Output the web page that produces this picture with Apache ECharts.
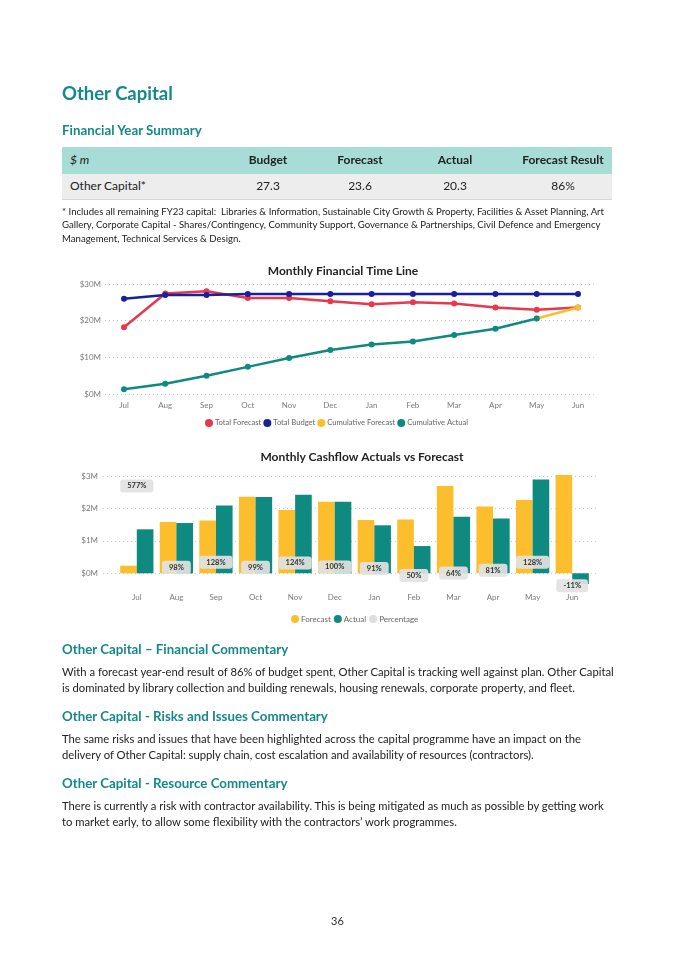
<!DOCTYPE html>
<html>
<head>
<meta charset="utf-8">
<script src="https://cdn.jsdelivr.net/npm/echarts@6/dist/echarts.min.js"></script>
<style>
  html, body { margin:0; padding:0; background:#fff; }
  body { width:675px; height:955px; position:relative; overflow:hidden; font-family: Lato, "Open Sans", sans-serif; color:#222; }
  #chart { position:absolute; left:0; top:0; width:675px; height:955px; }
  .abs { position:absolute; white-space:nowrap; }
  .h1 { left:62px; top:80px; font-size:18.5px; font-weight:bold; color:#15898a; line-height:26px; }
  .h2 { left:62px; font-size:13.3px; font-weight:bold; color:#15898a; line-height:18px; }
  .p { left:62px; font-size:11.25px; line-height:16px; color:#222; }
  .foot { left:62px; top:205px; font-size:9.6px; line-height:13.3px; color:#222; }
  .cell { position:absolute; font-size:12px; line-height:16px; text-align:center; width:120px; }
</style>
</head>
<body>
<div id="chart"></div>

<div class="abs h1">Other Capital</div>
<div class="abs h2" style="top:121px;">Financial Year Summary</div>

<div class="abs" style="left:62px; top:147px; width:550px; height:27px; background:#a8dcd6;"></div>
<div class="abs" style="left:62px; top:174px; width:550px; height:25px; background:#ededed; border-bottom:1px solid #d6d6d6;"></div>
<div class="cell" style="left:70px; top:152px; text-align:left; font-style:italic;">$ m</div>
<div class="cell" style="left:208px; top:152px; font-weight:bold;">Budget</div>
<div class="cell" style="left:300px; top:152px; font-weight:bold;">Forecast</div>
<div class="cell" style="left:395px; top:152px; font-weight:bold;">Actual</div>
<div class="cell" style="left:503px; top:152px; font-weight:bold;">Forecast Result</div>
<div class="cell" style="left:70px; top:178px; text-align:left;">Other Capital*</div>
<div class="cell" style="left:208px; top:178px;">27.3</div>
<div class="cell" style="left:300px; top:178px;">23.6</div>
<div class="cell" style="left:395px; top:178px;">20.3</div>
<div class="cell" style="left:503px; top:178px;">86%</div>

<div class="abs foot">* Includes all remaining FY23 capital:&nbsp; Libraries &amp; Information, Sustainable City Growth &amp; Property, Facilities &amp; Asset Planning, Art<br>Gallery, Corporate Capital - Shares/Contingency, Community Support, Governance &amp; Partnerships, Civil Defence and Emergency<br>Management, Technical Services &amp; Design.</div>

<div class="abs h2" style="top:640px;">Other Capital – Financial Commentary</div>
<div class="abs p" style="top:664px;">With a forecast year-end result of 86% of budget spent, Other Capital is tracking well against plan. Other Capital<br>is dominated by library collection and building renewals, housing renewals, corporate property, and fleet.</div>
<div class="abs h2" style="top:707px;">Other Capital - Risks and Issues Commentary</div>
<div class="abs p" style="top:731px;">The same risks and issues that have been highlighted across the capital programme have an impact on the<br>delivery of Other Capital: supply chain, cost escalation and availability of resources (contractors).</div>
<div class="abs h2" style="top:774px;">Other Capital - Resource Commentary</div>
<div class="abs p" style="top:798px;">There is currently a risk with contractor availability. This is being mitigated as much as possible by getting work<br>to market early, to allow some flexibility with the contractors’ work programmes.</div>

<div class="abs" style="left:0; width:675px; top:914px; text-align:center; font-size:11px; color:#333;">36</div>

<script>
const months = ['Jul','Aug','Sep','Oct','Nov','Dec','Jan','Feb','Mar','Apr','May','Jun'];
const totalForecast = [18.2, 27.4, 28.0, 26.2, 26.2, 25.3, 24.5, 25.0, 24.7, 23.6, 23.0, 23.6];
const totalBudget   = [26.0, 27.0, 27.0, 27.3, 27.3, 27.3, 27.3, 27.3, 27.3, 27.3, 27.3, 27.3];
const cumForecast   = [null, null, null, null, null, null, null, null, null, null, 20.6, 23.6];
const cumActual     = [1.3, 2.8, 5.0, 7.4, 9.8, 12.0, 13.5, 14.3, 16.1, 17.8, 20.6, null];
const lineTicks = ['$0M','$10M','$20M','$30M'];

const cashForecast = [0.235, 1.58, 1.63, 2.36, 1.95, 2.21, 1.64, 1.66, 2.69, 2.06, 2.26, 3.03];
const cashActual   = [1.356, 1.55, 2.09, 2.35, 2.42, 2.21, 1.48, 0.84, 1.74, 1.69, 2.89, -0.33];
const percentage   = [577, 98, 128, 99, 124, 100, 91, 50, 64, 81, 128, -11];
const barTicks = ['$0M','$1M','$2M','$3M'];

const C_RED = '#e8384d', C_BLUE = '#1a1f9c', C_YEL = '#fdbe2e', C_TEAL = '#0f8a80';
const F = 'Lato, "Open Sans", sans-serif';
const axisTxt = { color:'#7a7a7a', fontSize:8, fontFamily:F };

// bar chart pixel mapping
const barZeroY = 573.3, pxPerM = 32.43;
const barTop = 470, barH = 114;
const barMin = -((barTop + barH) - barZeroY) / pxPerM; // negative
const barMax = barMin + barH / pxPerM;
const pctZeroY = 584, pxPerPct = 0.17, pctTop = 470, pctH = 125;
const pctMin = -((pctTop + pctH) - pctZeroY) / pxPerPct;
const pctMax = pctMin + pctH / pxPerPct;

const chart = echarts.init(document.getElementById('chart'), null, { renderer:'canvas' });
const hiddenVal = (gi) => ({ type:'value', gridIndex:gi, show:false, min:0, max:1 });

chart.setOption({
  animation:false,
  textStyle:{ fontFamily:F },
  title:[
    { text:'Monthly Financial Time Line', left:338, top:260, textAlign:'center',
      textStyle:{ fontSize:12, fontWeight:'bold', color:'#252423', fontFamily:F } },
    { text:'Monthly Cashflow Actuals vs Forecast', left:357, top:446, textAlign:'center',
      textStyle:{ fontSize:12, fontWeight:'bold', color:'#252423', fontFamily:F } }
  ],
  legend:[
    { data:['Total Forecast','Total Budget','Cumulative Forecast','Cumulative Actual'],
      left:200, top:414, icon:'circle', itemWidth:8, itemHeight:8, itemGap:2,
      textStyle:{ fontSize:7.6, color:'#666', fontFamily:F, padding:[0,0,0,-3] } },
    { data:['Forecast','Actual',{name:'Percentage', itemStyle:{color:'#dedede'}}],
      left:286, top:610, icon:'circle', itemWidth:8, itemHeight:8, itemGap:3,
      textStyle:{ fontSize:8, color:'#666', fontFamily:F, padding:[0,0,0,-3] } }
  ],
  grid:[
    { left:105, top:284, width:492, height:110 },   // 0 line gridlines + labels
    { left:124, top:284, width:454, height:110 },   // 1 lines
    { left:103, top:476, width:494, height:97.3 },  // 2 bar gridlines + labels
    { left:117, top:barTop, width:475, height:barH },// 3 bars
    { left:117, top:pctTop, width:475, height:pctH } // 4 percentage labels
  ],
  xAxis:[
    hiddenVal(0),
    { type:'category', gridIndex:1, data:months, boundaryGap:false,
      axisLine:{show:false}, axisTick:{show:false}, axisLabel:Object.assign({margin:7}, axisTxt) },
    hiddenVal(2),
    { type:'category', gridIndex:3, data:months,
      axisLine:{show:false}, axisTick:{show:false}, axisLabel:Object.assign({margin:9}, axisTxt) },
    { type:'category', gridIndex:4, data:months, show:false }
  ],
  yAxis:[
    { type:'value', gridIndex:0, min:0, max:30, interval:10,
      axisLine:{show:false}, axisTick:{show:false},
      axisLabel:Object.assign({ margin:4, formatter:(v,i)=>lineTicks[i] }, axisTxt),
      splitLine:{ lineStyle:{ type:[1,3], color:'#c8c8c8', width:1 } } },
    { type:'value', gridIndex:1, min:0, max:30, show:false, splitLine:{show:false} },
    { type:'value', gridIndex:2, min:0, max:3, interval:1,
      axisLine:{show:false}, axisTick:{show:false},
      axisLabel:Object.assign({ margin:5, formatter:(v,i)=>barTicks[i] }, axisTxt),
      splitLine:{ lineStyle:{ type:[1,3], color:'#c8c8c8', width:1 } } },
    { type:'value', gridIndex:3, min:barMin, max:barMax, show:false, splitLine:{show:false} },
    { type:'value', gridIndex:4, min:pctMin, max:pctMax, show:false, splitLine:{show:false} }
  ],
  series:[
    { name:'Total Forecast', type:'line', xAxisIndex:1, yAxisIndex:1, data:totalForecast,
      color:C_RED, symbol:'circle', symbolSize:6, lineStyle:{width:2.5} },
    { name:'Total Budget', type:'line', xAxisIndex:1, yAxisIndex:1, data:totalBudget,
      color:C_BLUE, symbol:'circle', symbolSize:6, lineStyle:{width:2.5} },
    { name:'Cumulative Forecast', type:'line', xAxisIndex:1, yAxisIndex:1, data:cumForecast,
      color:C_YEL, symbol:'circle', symbolSize:6, lineStyle:{width:2.5} },
    { name:'Cumulative Actual', type:'line', xAxisIndex:1, yAxisIndex:1, data:cumActual,
      color:C_TEAL, symbol:'circle', symbolSize:6, lineStyle:{width:2.5} },

    { name:'Forecast', type:'bar', xAxisIndex:3, yAxisIndex:3, data:cashForecast,
      color:C_YEL, barGap:'0%', barCategoryGap:'16%' },
    { name:'Actual', type:'bar', xAxisIndex:3, yAxisIndex:3, data:cashActual,
      color:C_TEAL, barGap:'0%', barCategoryGap:'16%' },
    { name:'Percentage', type:'line', xAxisIndex:4, yAxisIndex:4, data:percentage,
      color:'#dedede', symbol:'circle', symbolSize:0, lineStyle:{opacity:0}, z:5,
      label:{ show:true, position:'inside', formatter:(p)=>p.value+'%',
        fontSize:7.5, fontWeight:'bold', color:'#333', fontFamily:F,
        backgroundColor:'rgba(226,226,226,0.92)', borderRadius:3, padding:[3,7,2,7] } }
  ]
});
</script>
</body>
</html>
